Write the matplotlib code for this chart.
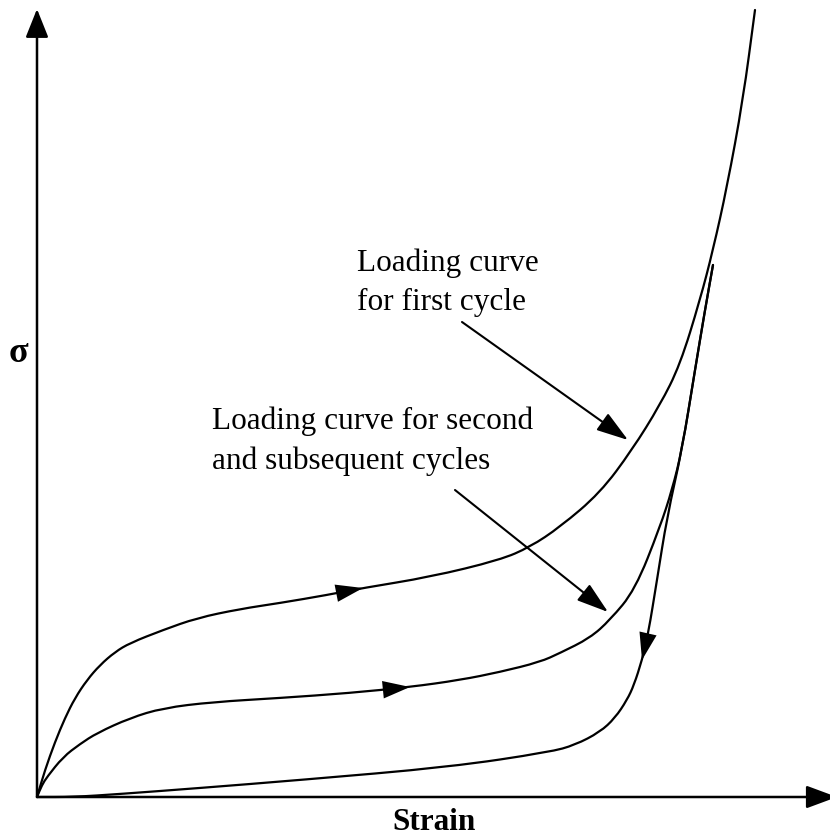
import numpy as np
import matplotlib
matplotlib.use("Agg")
import matplotlib.pyplot as plt
from matplotlib.path import Path
from matplotlib.patches import PathPatch

# ---- data (strain, stress in arbitrary units) ----
first_strain = [0.00, 0.08, 0.18, 0.28, 0.38, 0.50, 0.63, 0.78, 0.93, 1.26,
                1.60, 2.03, 2.43, 2.90, 3.26, 3.93, 4.63, 4.93, 5.23, 5.63, 5.95, 6.23,
                6.43, 6.63, 6.76, 6.90, 7.06, 7.18]
first_stress = [0.00, 0.27, 0.55, 0.79, 0.99, 1.17, 1.32, 1.45, 1.54, 1.67,
                1.79, 1.88, 1.94, 2.02, 2.09, 2.20, 2.37, 2.50, 2.70, 3.04, 3.47, 3.92,
                4.32, 4.97, 5.47, 6.10, 6.97, 7.87]

second_strain = [0.00, 0.05, 0.10, 0.26, 0.43, 0.60, 0.93, 1.26, 1.76, 2.43, 3.13, 3.73,
                 4.23, 4.63, 5.03, 5.23, 5.53, 5.73, 5.98, 6.23, 6.35, 6.45, 6.58, 6.68, 6.76]
second_stress = [0.00, 0.12, 0.20, 0.40, 0.53, 0.64, 0.79, 0.89, 0.95, 0.99, 1.04, 1.10,
                 1.17, 1.25, 1.35, 1.44, 1.59, 1.77, 2.07, 2.70, 3.07, 3.47, 4.27, 4.87, 5.32]

unload_strain = [6.76, 6.68, 6.58, 6.45, 6.30, 6.20, 6.11, 6.05, 5.97, 5.90, 5.78, 5.63,
                 5.38, 5.13, 4.13, 2.63, 1.63, 0.83, 0.36, 0.00]
unload_stress = [5.32, 4.87, 4.27, 3.47, 2.80, 2.17, 1.62, 1.37, 1.12, 0.97, 0.79, 0.65,
                 0.52, 0.45, 0.30, 0.17, 0.09, 0.03, 0.00, 0.00]

arrow_first_x = 3.26     # position of direction arrow on first-cycle curve
arrow_second_x = 3.73    # position of direction arrow on second-cycle curve
arrow_unload_y = 1.37    # position of direction arrow on unloading curve

x_label = "Strain"
y_label = "σ"
note_first = "Loading curve\nfor first cycle"
note_second = "Loading curve for second\nand subsequent cycles"

plt.rcParams['font.family'] = ['Liberation Serif', 'DejaVu Serif']

fig = plt.figure(figsize=(8.3, 8.38), dpi=100)
ax = fig.add_axes([0, 0, 1, 1])
ax.set_xlim(-0.37, 7.93)
ax.set_ylim(-0.41, 7.97)
ax.axis('off')

lw = 1.6
# axes with arrows
ax.annotate('', xy=(8.0, 0), xytext=(0, 0), annotation_clip=False,
            arrowprops=dict(arrowstyle='-|>,head_length=1.35,head_width=0.5',
                            mutation_scale=14, lw=1.8, color='black',
                            shrinkA=0, shrinkB=0))
ax.annotate('', xy=(0, 7.88), xytext=(0, 0), annotation_clip=False,
            arrowprops=dict(arrowstyle='-|>,head_length=1.25,head_width=0.5',
                            mutation_scale=14, lw=1.8, color='black',
                            shrinkA=0, shrinkB=0))


def smooth_curve(xs, ys):
    """Draw a smooth path using the read points as quadratic Bezier controls."""
    pts = np.column_stack([xs, ys])
    verts = [pts[0], (pts[0] + pts[1]) / 2]
    codes = [Path.MOVETO, Path.LINETO]
    for i in range(1, len(pts) - 1):
        verts += [pts[i], (pts[i] + pts[i + 1]) / 2]
        codes += [Path.CURVE3, Path.CURVE3]
    verts.append(pts[-1])
    codes.append(Path.LINETO)
    ax.add_patch(PathPatch(Path(verts, codes), facecolor='none', edgecolor='black',
                           lw=lw, capstyle='round', joinstyle='round'))


smooth_curve(first_strain, first_stress)
smooth_curve(second_strain, second_stress)
smooth_curve(unload_strain, unload_stress)


def head(tip, tail):
    ax.annotate('', xy=tip, xytext=tail,
                arrowprops=dict(arrowstyle='-|>,head_length=1.4,head_width=0.45',
                                mutation_scale=14, lw=0, color='black',
                                shrinkA=0, shrinkB=0))


# direction arrows on the curves
fx = np.array(first_strain); fy = np.array(first_stress)
tip = (arrow_first_x, np.interp(arrow_first_x, fx, fy))
tail = (arrow_first_x - 0.3, np.interp(arrow_first_x - 0.3, fx, fy))
head(tip, tail)

sx = np.array(second_strain); sy = np.array(second_stress)
tip = (arrow_second_x, np.interp(arrow_second_x, sx, sy))
tail = (arrow_second_x - 0.3, np.interp(arrow_second_x - 0.3, sx, sy))
head(tip, tail)

ux = np.array(unload_strain)[::-1]; uy = np.array(unload_stress)[::-1]
tip = (np.interp(arrow_unload_y, uy, ux), arrow_unload_y)
tail = (np.interp(arrow_unload_y + 0.3, uy, ux), arrow_unload_y + 0.3)
head(tip, tail)

# annotations
ax.text(3.20, 4.87, note_first, fontsize=22.5, ha='left', va='baseline', linespacing=1.45)
ax.annotate('', xy=(5.91, 3.57), xytext=(4.25, 4.75),
            arrowprops=dict(arrowstyle='-|>,head_length=1.4,head_width=0.45',
                            mutation_scale=14, lw=1.5, color='black',
                            shrinkA=0, shrinkB=0))
ax.text(1.75, 3.28, note_second, fontsize=22.5, ha='left', va='baseline', linespacing=1.45)
ax.annotate('', xy=(5.71, 1.85), xytext=(4.18, 3.07),
            arrowprops=dict(arrowstyle='-|>,head_length=1.4,head_width=0.45',
                            mutation_scale=14, lw=1.5, color='black',
                            shrinkA=0, shrinkB=0))

ax.text(3.97, -0.25, x_label, fontsize=22.5, fontweight='bold', ha='center', va='center')
ax.text(-0.19, 4.43, y_label, fontsize=26, fontweight='bold', ha='center', va='center')

fig.savefig('out.png', dpi=100)
